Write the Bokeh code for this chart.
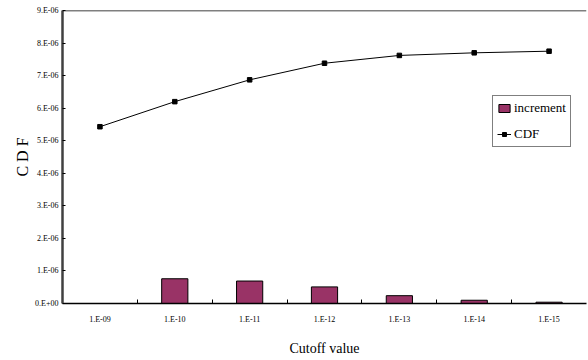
from bokeh.plotting import figure
from bokeh.models import (FixedTicker, CustomJSTickFormatter, Span, Legend, LegendItem,
                          ColumnDataSource, Range1d)
from bokeh.embed import file_html
from bokeh.resources import INLINE

# ---- data ----
cutoffs = ["1.E-09", "1.E-10", "1.E-11", "1.E-12", "1.E-13", "1.E-14", "1.E-15"]
increment = [0.0, 0.76e-6, 0.69e-6, 0.51e-6, 0.24e-6, 0.10e-6, 0.04e-6]
cdf = [5.43e-6, 6.20e-6, 6.87e-6, 7.38e-6, 7.62e-6, 7.70e-6, 7.75e-6]
y_ticks = [0, 1e-6, 2e-6, 3e-6, 4e-6, 5e-6, 6e-6, 7e-6, 8e-6, 9e-6]

xpos = list(range(1, len(cutoffs) + 1))
src = ColumnDataSource(dict(x=xpos, inc=increment, cdf=cdf))

FONT = "Liberation Serif"

p = figure(width=587, height=358, output_backend="svg", toolbar_location=None,
           x_range=Range1d(0.5, len(cutoffs) + 0.5), y_range=Range1d(0, 9e-6),
           min_border_left=62, min_border_top=10, min_border_right=1, min_border_bottom=0,
           background_fill_color="white", border_fill_color="white")
p.outline_line_color = None
p.xgrid.visible = False
p.ygrid.visible = False

bars = p.vbar(x="x", top="inc", width=0.35, source=src, fill_color="#993366",
              line_color="black", line_width=1)
line = p.line(x="x", y="cdf", source=src, line_color="black", line_width=1)
pts = p.scatter(x="x", y="cdf", source=src, marker="square", size=4.5,
                fill_color="black", line_color="black")

# top border
p.add_layout(Span(location=9e-6, dimension="width", line_color="black", line_width=1.5))

# x axis
p.xaxis.ticker = FixedTicker(ticks=xpos, minor_ticks=[i + 0.5 for i in xpos[:-1]])
p.xaxis.major_label_overrides = {i: lab for i, lab in zip(xpos, cutoffs)}
p.xaxis.major_tick_line_color = None
p.xaxis.minor_tick_in = 4
p.xaxis.minor_tick_out = 0
p.xaxis.minor_tick_line_color = "black"
p.xaxis.axis_line_color = "black"
p.xaxis.axis_line_width = 1.5
p.xaxis.major_label_text_font = FONT
p.xaxis.major_label_text_font_size = "8px"
p.xaxis.major_label_text_color = "black"
p.xaxis.major_label_standoff = 5
p.xaxis.axis_label = "Cutoff value"
p.xaxis.axis_label_text_font = FONT
p.xaxis.axis_label_text_font_size = "14px"
p.xaxis.axis_label_text_font_style = "normal"
p.xaxis.axis_label_text_color = "black"
p.xaxis.axis_label_standoff = 14

# y axis
p.yaxis.ticker = FixedTicker(ticks=y_ticks, minor_ticks=[])
p.yaxis.formatter = CustomJSTickFormatter(code="""
    const s = tick.toExponential(0);
    const parts = s.split('e');
    let e = parseInt(parts[1]);
    const sign = e < 0 ? '-' : '+';
    e = Math.abs(e);
    return parts[0] + '.E' + sign + (e < 10 ? '0' + e : '' + e);
""")
p.yaxis.major_tick_in = 3
p.yaxis.major_tick_out = 0
p.yaxis.major_tick_line_color = "black"
p.yaxis.axis_line_color = "#404040"
p.yaxis.axis_line_width = 2.5
p.yaxis.major_label_text_font = FONT
p.yaxis.major_label_text_font_size = "8px"
p.yaxis.major_label_text_color = "black"
p.yaxis.major_label_standoff = 4
p.yaxis.axis_label = "C D F"
p.yaxis.axis_label_text_font = FONT
p.yaxis.axis_label_text_font_size = "16px"
p.yaxis.axis_label_text_font_style = "normal"
p.yaxis.axis_label_text_color = "black"
p.yaxis.axis_label_standoff = 1

legend = Legend(items=[LegendItem(label="increment", renderers=[bars]),
                       LegendItem(label="CDF", renderers=[line, pts])],
                location=(430, 156), label_text_font=FONT, label_text_font_size="13px",
                label_text_color="black",
                glyph_width=14, glyph_height=10, label_standoff=3, padding=4,
                spacing=10, label_height=16, border_line_color="black",
                border_line_width=1, background_fill_alpha=1, margin=0)
p.add_layout(legend)

open("out.html", "w").write(file_html(p, INLINE))
